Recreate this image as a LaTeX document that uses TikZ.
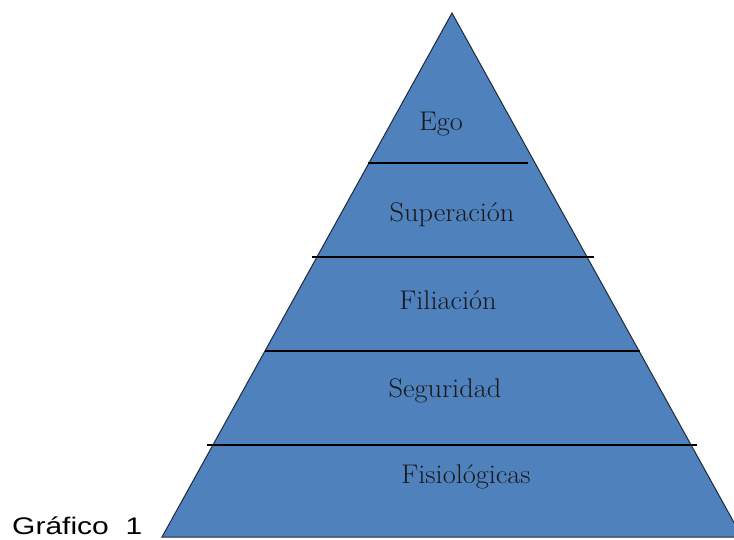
\documentclass[tikz,border=0pt]{standalone}
\usepackage{fontspec}
\newfontfamily\labelsans{Liberation Sans}
\definecolor{pyrblue}{HTML}{4F81BD}
\definecolor{pyredge}{HTML}{1F2A3A}
\tikzset{
  level/.style={font=\fontsize{27}{31}\selectfont, text=black!90, inner sep=0pt},
  divider/.style={draw=black, line width=1.3pt},
  pyramid/.style={fill=pyrblue, draw=pyredge, line width=1pt, line join=miter}
}
\begin{document}
\begin{tikzpicture}[x=1pt,y=-1pt]
\useasboundingbox (0,0) rectangle (734,539);
\begin{scope}
\clip (0,0) rectangle (734,539);
\coordinate (apex) at (452,13);
\coordinate (bl) at (162,537);
\coordinate (br) at (742,537);
\draw[pyramid] (apex) -- (bl) -- (br) -- cycle;
\coordinate (l1a) at (368,163); \coordinate (l1b) at (528,163);
\coordinate (l2a) at (312,257); \coordinate (l2b) at (594,257);
\coordinate (l3a) at (265,351); \coordinate (l3b) at (640,351);
\coordinate (l4a) at (207,445); \coordinate (l4b) at (697,445);
\draw[divider] (l1a) -- (l1b);
\draw[divider] (l2a) -- (l2b);
\draw[divider] (l3a) -- (l3b);
\draw[divider] (l4a) -- (l4b);
\end{scope}
\node[level] (ego) at (441,124) {\scalebox{1.05}[1]{Ego}};
\node[level] (sup) at (452,215) {\scalebox{1.05}[1]{Superación}};
\node[level] (fil) at (448,300) {\scalebox{1.05}[1]{Filiación}};
\node[level] (seg) at (445,391) {\scalebox{1.05}[1]{Seguridad}};
\node[level] (fis) at (466,477) {\scalebox{1.05}[1]{Fisiológicas}};
\node[font=\labelsans\fontsize{24}{28}\selectfont, inner sep=0pt, anchor=base west] (graf) at (12,534) {\scalebox{1.25}[1]{Gráfico\ \ 1}};
\end{tikzpicture}
\end{document}
